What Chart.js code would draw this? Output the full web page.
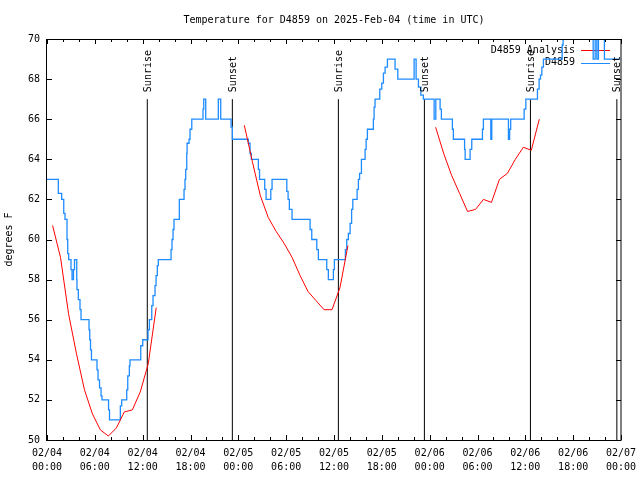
<!DOCTYPE html>
<html>
<head>
<meta charset="utf-8">
<title>Temperature for D4859</title>
<script src="https://cdn.jsdelivr.net/npm/chart.js@4.4.1/dist/chart.umd.min.js"></script>
<style>
    html, body { margin: 0; padding: 0; background: #fff; }
    #wrap { width: 640px; height: 480px; }
</style>
</head>
<body>
<div id="wrap"><canvas id="tempChart" width="640" height="480"></canvas></div>
<script>
// ========== DATA ==========
// x values are hours since 2025-02-04 00:00 UTC
const xTickHours = [0, 6, 12, 18, 24, 30, 36, 42, 48, 54, 60, 66, 72];
const xTickLabels = [
    ["02/04", "00:00"], ["02/04", "06:00"], ["02/04", "12:00"], ["02/04", "18:00"],
    ["02/05", "00:00"], ["02/05", "06:00"], ["02/05", "12:00"], ["02/05", "18:00"],
    ["02/06", "00:00"], ["02/06", "06:00"], ["02/06", "12:00"], ["02/06", "18:00"],
    ["02/07", "00:00"]
];
const yTicks = [50, 52, 54, 56, 58, 60, 62, 64, 66, 68, 70];

// station observations (value holds until the next change)
const obsHours = [
    0, 1.42, 1.84, 2.10, 2.26, 2.51, 2.60, 2.72, 3.01, 3.14, 3.32, 3.45, 3.73, 3.76, 3.93,
    4.14, 4.27, 5.27, 5.36, 5.46, 5.58, 6.27, 6.40, 6.59, 6.78, 6.90, 7.72, 7.84, 9.20, 9.37,
    10.0, 10.13, 10.33, 10.41, 11.76, 12.01, 12.67, 12.84, 13.14, 13.30, 13.55, 13.68, 13.84, 13.96, 15.56,
    15.68, 15.81, 15.93, 16.60, 17.19, 17.31, 17.40, 17.53, 17.57, 17.82, 17.94, 18.16, 19.57, 19.66, 19.91,
    21.49, 21.79, 23.09, 23.25, 25.26, 25.47, 25.63, 26.51, 26.66, 27.31, 27.48, 28.07, 28.23, 30.08, 30.24,
    30.40, 30.74, 33.0, 33.21, 33.84, 34.04, 35.09, 35.29, 35.92, 36.05, 37.43, 37.60, 37.80, 38.02, 38.21,
    38.36, 38.90, 39.06, 39.21, 39.44, 39.90, 40.03, 40.19, 40.94, 41.03, 41.15, 41.74, 41.99, 42.20, 42.41,
    42.70, 43.66, 44.0, 46.05, 46.30, 46.59, 46.89, 47.21, 48.56, 48.77, 49.31, 49.47, 50.85, 50.97, 52.38,
    52.45, 53.07, 53.28, 54.62, 54.74, 55.67, 55.79, 57.88, 58.03, 58.16, 59.85, 60.06, 61.52, 61.73, 61.90,
    62.07, 62.27, 64.62, 64.74, 68.51, 68.76, 68.97, 69.17, 69.92, 71.9
];
const obsTemps = [
    63.0, 62.3, 62.0, 61.3, 61.0, 60.0, 59.3, 59.0, 58.5, 58.0, 58.5, 59.0, 58.0, 57.5, 57.0,
    56.5, 56.0, 55.5, 55.0, 54.5, 54.0, 53.5, 53.0, 52.6, 52.2, 52.0, 51.5, 51.0, 51.7, 52.0,
    52.5, 53.2, 53.7, 54.0, 54.7, 55.0, 55.5, 56.0, 56.7, 57.2, 57.7, 58.2, 58.7, 59.0, 59.5,
    60.0, 60.5, 61.0, 62.0, 62.5, 63.0, 63.5, 64.3, 64.8, 65.0, 65.5, 66.0, 66.5, 67.0, 66.0,
    67.0, 66.0, 65.6, 65.0, 64.8, 64.3, 64.0, 63.5, 63.0, 62.5, 62.0, 62.5, 63.0, 62.4, 62.0,
    61.5, 61.0, 60.5, 60.0, 59.5, 59.0, 58.5, 58.0, 58.5, 59.0, 59.5, 60.0, 60.3, 60.8, 61.5,
    62.0, 62.5, 63.0, 63.3, 64.0, 64.5, 65.0, 65.5, 66.0, 66.6, 67.0, 67.5, 67.8, 68.3, 68.6,
    69.0, 68.5, 68.0, 69.0, 68.0, 67.6, 67.2, 67.0, 66.0, 67.0, 66.5, 66.0, 65.5, 65.0, 64.5,
    64.0, 64.5, 65.0, 65.5, 66.0, 65.0, 66.0, 65.0, 65.5, 66.0, 66.5, 67.0, 67.5, 68.0, 68.2,
    68.6, 69.0, 69.7, 70.5, 69.0, 70.5, 69.0, 70.5, 69.0, 69.0
];

// analysis runs (null breaks the line between runs)
const analysisHours = [
    0.7, 1.7, 2.7, 3.7, 4.7, 5.7, 6.7, 7.7, 8.7, 9.7, 10.7, 11.7, 12.7, 13.7, 14.2,
    24.75, 25.75, 26.75, 27.75, 28.75, 29.75, 30.75, 31.75, 32.75, 33.75, 34.75, 35.75, 36.75, 37.75, 38.2,
    48.75, 49.75, 50.75, 51.75, 52.75, 53.75, 54.75, 55.75, 56.75, 57.75, 58.75, 59.75, 60.75, 61.75
];
const analysisTemps = [
    60.7, 59.1, 56.3, 54.3, 52.5, 51.3, 50.5, 50.2, 50.6, 51.4, 51.5, 52.4, 53.8, 56.6, null,
    65.7, 63.9, 62.2, 61.1, 60.4, 59.8, 59.1, 58.2, 57.4, 56.95, 56.5, 56.5, 57.6, 59.7, null,
    65.6, 64.3, 63.2, 62.3, 61.4, 61.5, 62.0, 61.85, 63.0, 63.3, 64.0, 64.6, 64.45, 66.0
];

// sunrise / sunset markers
const eventHours = [12.58, 23.25, 36.55, 47.34, 60.64, 71.48];
const eventLabels = ["Sunrise", "Sunset", "Sunrise", "Sunset", "Sunrise", "Sunset"];
const eventLineTop = 67;

const titleText = "Temperature for D4859 on 2025-Feb-04 (time in UTC)";
const FONT = "DejaVu Sans Mono";
const BLUE = "#1e8cff";
const RED = "#ff0000";

// ========== PLUGINS ==========
const chartTitle = {
    id: "chartTitle",
    afterDraw(chart) {
        const { ctx, chartArea: a } = chart;
        ctx.save();
        ctx.font = "10px '" + FONT + "'";
        ctx.fillStyle = "#000";
        ctx.textAlign = "center";
        ctx.textBaseline = "middle";
        ctx.fillText(titleText, (a.left + a.right) / 2, 20);
        ctx.restore();
    }
};

// gnuplot style frame with inward ticks on all four sides
const frameTicks = {
    id: "frameTicks",
    afterDatasetsDraw(chart) {
        const { ctx, chartArea: a, scales: { x, y } } = chart;
        ctx.save();
        ctx.strokeStyle = "#000";
        ctx.lineWidth = 1;
        ctx.strokeRect(a.left - 0.5, a.top + 0.5, a.right - a.left + 0.5, a.bottom - a.top);
        ctx.beginPath();
        for (let h = 0; h <= 72; h += 2) {
            const px = Math.round(x.getPixelForValue(h)) + 0.5;
            const len = xTickHours.includes(h) ? 5 : 3;
            ctx.moveTo(px, a.bottom); ctx.lineTo(px, a.bottom - len);
            ctx.moveTo(px, a.top); ctx.lineTo(px, a.top + len);
        }
        yTicks.forEach(v => {
            const py = Math.round(y.getPixelForValue(v)) + 0.5;
            ctx.moveTo(a.left, py); ctx.lineTo(a.left + 5, py);
            ctx.moveTo(a.right, py); ctx.lineTo(a.right - 5, py);
        });
        ctx.stroke();
        ctx.restore();
    }
};

// rotated Sunrise / Sunset labels above each marker line
const eventText = {
    id: "eventText",
    afterDatasetsDraw(chart) {
        const { ctx, scales: { x, y } } = chart;
        ctx.save();
        ctx.font = "10px '" + FONT + "'";
        ctx.fillStyle = "#000";
        ctx.textAlign = "left";
        ctx.textBaseline = "middle";
        eventHours.forEach((h, i) => {
            ctx.save();
            ctx.translate(x.getPixelForValue(h) + 1, y.getPixelForValue(eventLineTop) - 7);
            ctx.rotate(-Math.PI / 2);
            ctx.fillText(eventLabels[i], 0, 0);
            ctx.restore();
        });
        ctx.restore();
    }
};

// key in the top right corner, drawn under the data like gnuplot
const keyBox = {
    id: "keyBox",
    beforeDatasetsDraw(chart) {
        const { ctx, chartArea: a } = chart;
        const items = [
            { text: "D4859 Analysis", color: RED },
            { text: "D4859", color: BLUE }
        ];
        ctx.save();
        ctx.font = "10px '" + FONT + "'";
        ctx.textAlign = "right";
        ctx.textBaseline = "middle";
        items.forEach((it, i) => {
            const ty = a.top + 11 + i * 12.5;
            ctx.fillStyle = "#000";
            ctx.fillText(it.text, a.right - 46, ty);
            ctx.strokeStyle = it.color;
            ctx.lineWidth = 1;
            ctx.beginPath();
            ctx.moveTo(a.right - 40, Math.round(ty) + 0.5);
            ctx.lineTo(a.right - 11, Math.round(ty) + 0.5);
            ctx.stroke();
        });
        ctx.restore();
    }
};

// ========== DATASETS ==========
const obsPoints = obsHours.map((h, i) => ({ x: h, y: obsTemps[i] }));
const analysisPoints = analysisHours.map((h, i) => ({ x: h, y: analysisTemps[i] }));

const datasets = [
    {
        label: "D4859 Analysis",
        data: analysisPoints,
        borderColor: RED,
        borderWidth: 1,
        pointRadius: 0,
        spanGaps: false,
        order: 1,
        clip: 0
    },
    {
        label: "D4859",
        data: obsPoints,
        borderColor: BLUE,
        borderWidth: 1.3,
        pointRadius: 0,
        stepped: true,
        order: 2,
        clip: 0
    }
];

eventHours.forEach((h, i) => {
    datasets.push({
        label: eventLabels[i],
        data: [{ x: h, y: 50 }, { x: h, y: eventLineTop }],
        borderColor: "#000",
        borderWidth: 1,
        pointRadius: 0,
        order: 3,
        clip: 0
    });
});

// ========== CHART ==========
const ctx = document.getElementById("tempChart").getContext("2d");
new Chart(ctx, {
    type: "line",
    data: { datasets: datasets },
    options: {
        responsive: false,
        animation: false,
        layout: { padding: { top: 39, right: 19, left: 0, bottom: 0 } },
        plugins: {
            legend: { display: false },
            title: { display: false },
            tooltip: { enabled: false }
        },
        scales: {
            x: {
                type: "linear",
                min: 0,
                max: 72,
                grid: { display: false, drawTicks: false },
                border: { display: false },
                afterBuildTicks: scale => { scale.ticks = xTickHours.map(v => ({ value: v })); },
                afterFit: scale => {
                    scale.height = 40;
                    scale.paddingLeft = 0;
                    scale.paddingRight = 0;
                },
                ticks: {
                    autoSkip: false,
                    maxRotation: 0,
                    padding: 7,
                    color: "#000",
                    font: { family: FONT, size: 10, lineHeight: 1.35 },
                    callback: (value, index) => xTickLabels[index]
                }
            },
            y: {
                min: 50,
                max: 70,
                grid: { display: false, drawTicks: false },
                border: { display: false },
                afterBuildTicks: scale => { scale.ticks = yTicks.map(v => ({ value: v })); },
                afterFit: scale => { scale.width = 47; },
                title: {
                    display: true,
                    text: "degrees F",
                    color: "#000",
                    font: { family: FONT, size: 10 },
                    padding: { top: 3, bottom: 0 }
                },
                ticks: {
                    padding: 7,
                    color: "#000",
                    font: { family: FONT, size: 10 },
                    callback: value => String(value)
                }
            }
        }
    },
    plugins: [keyBox, frameTicks, eventText, chartTitle]
});
</script>
</body>
</html>
